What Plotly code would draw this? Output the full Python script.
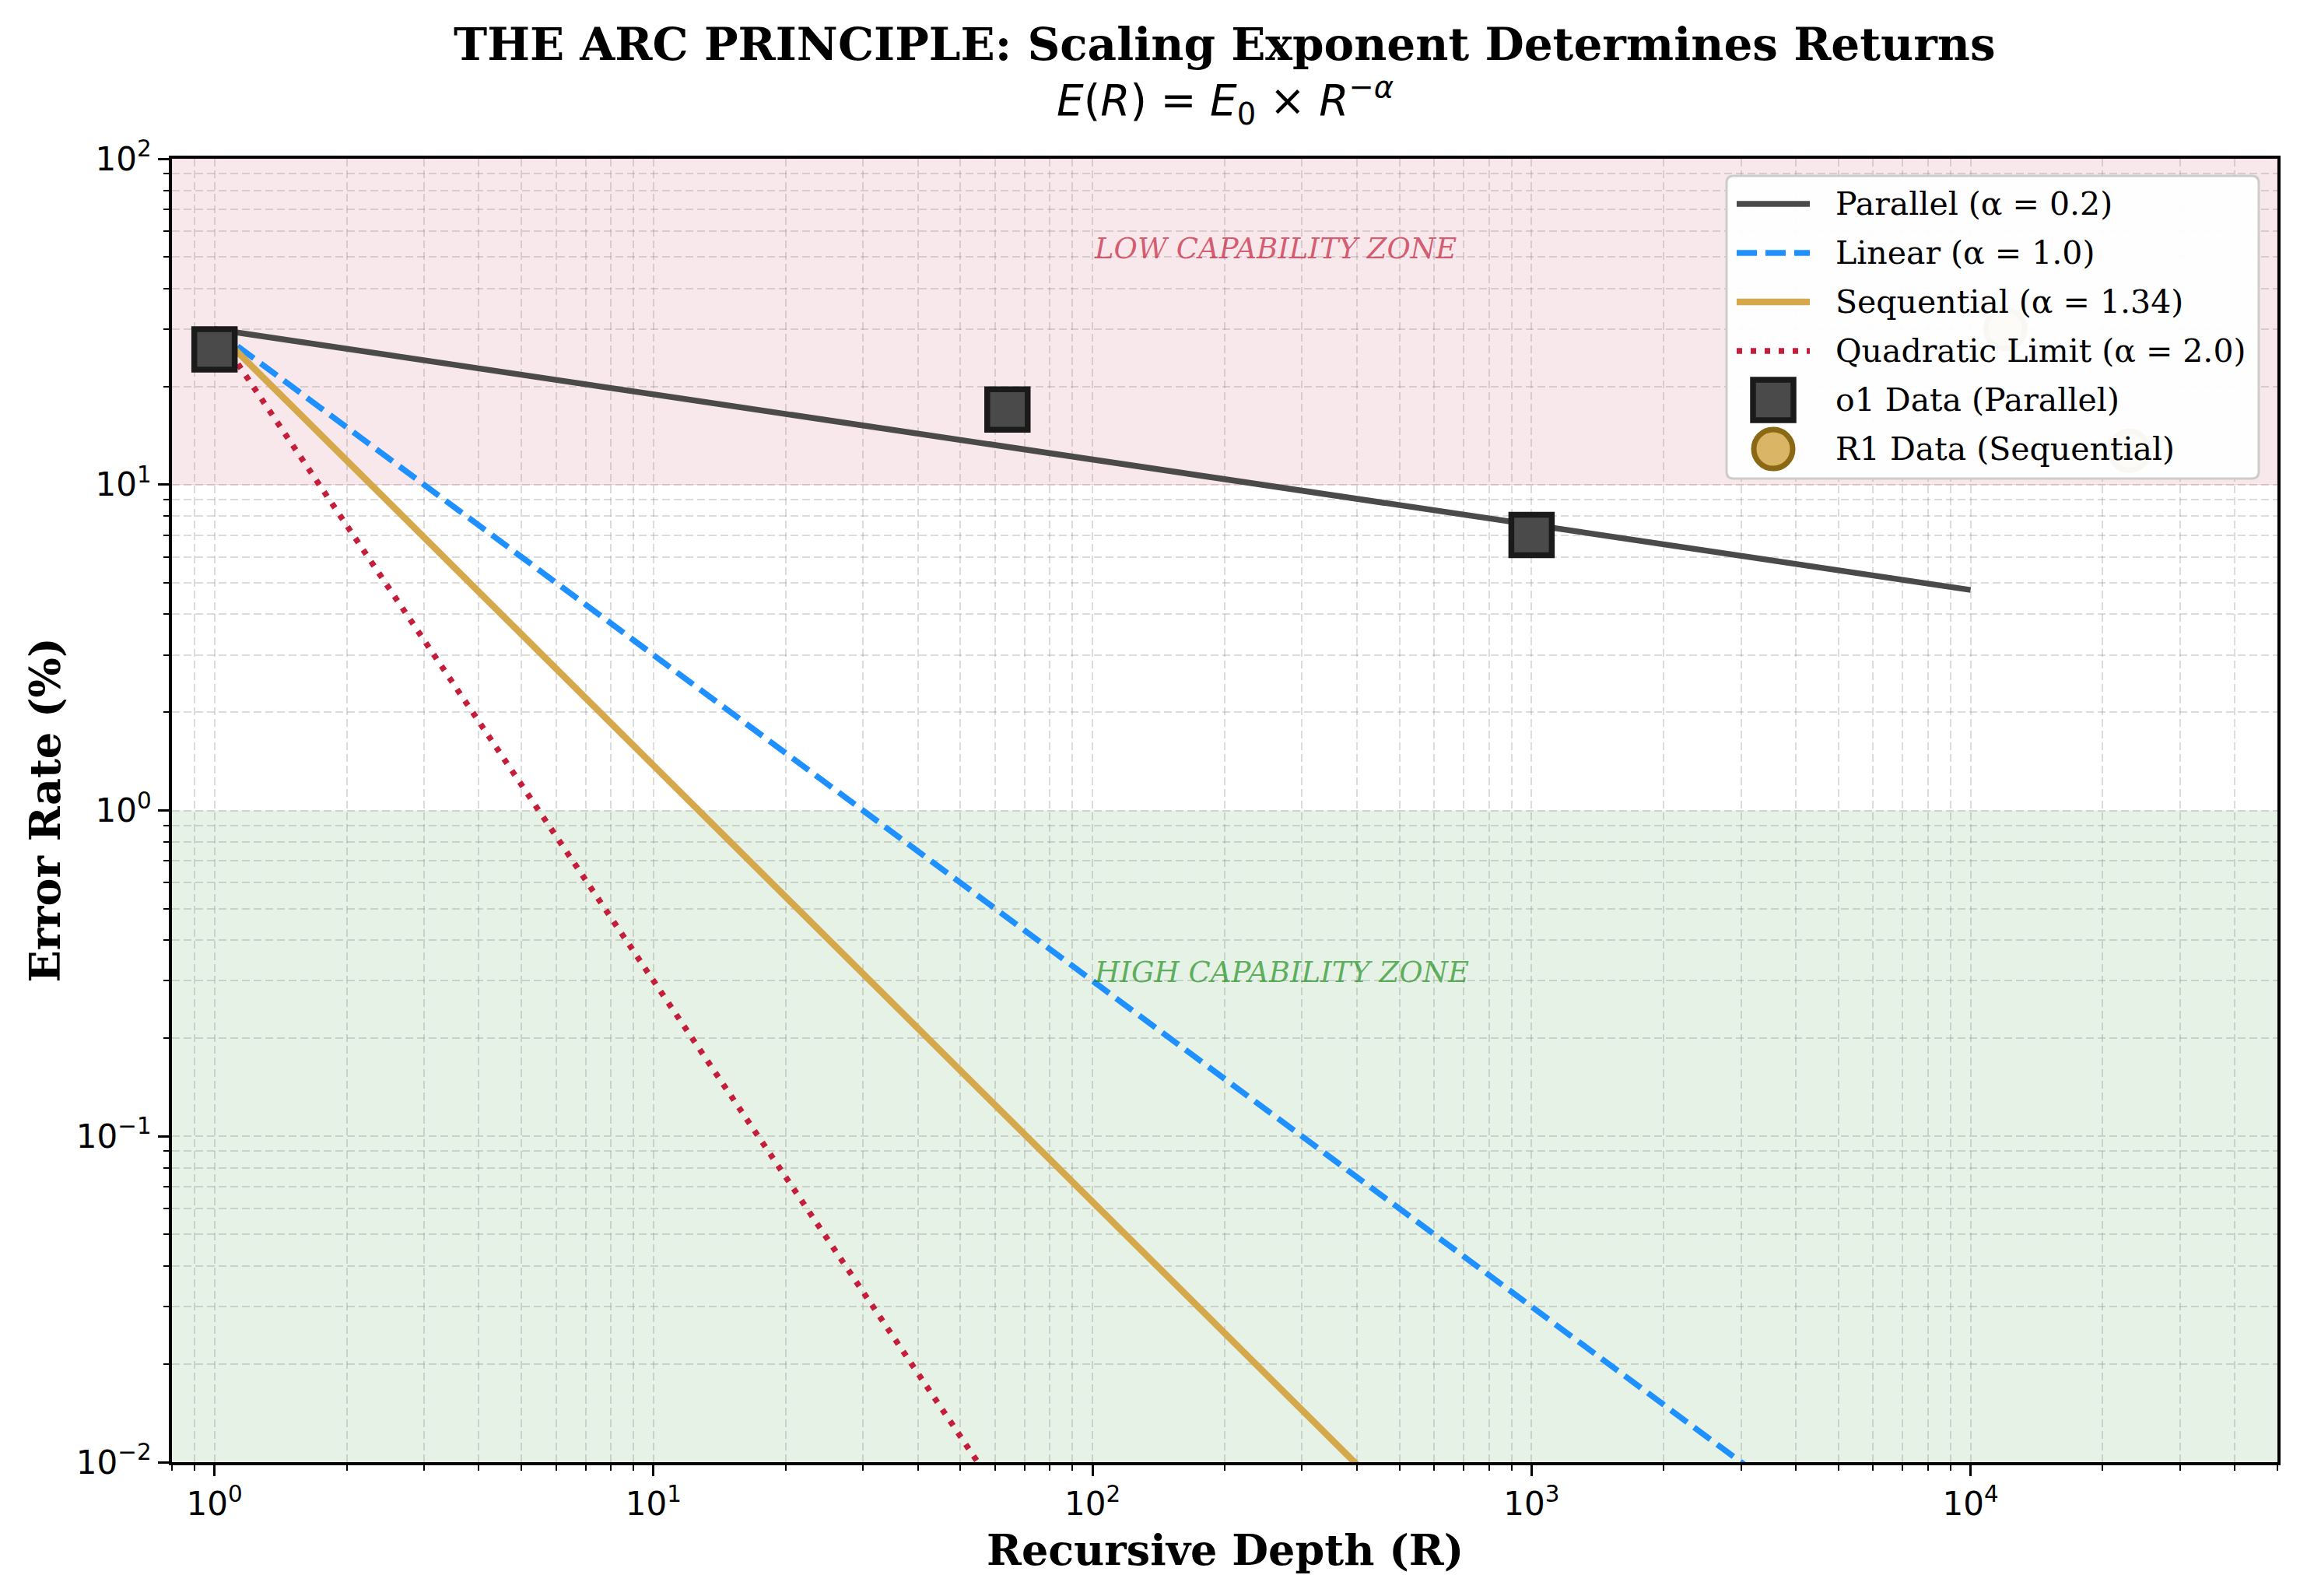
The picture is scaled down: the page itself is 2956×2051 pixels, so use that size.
import plotly.graph_objects as go
import math

# ---------------- data ----------------
R_curve = [1, 10000]
E_parallel = [30, 4.75]        # alpha = 0.2
E_linear = [30, 0.003]         # alpha = 1.0
E_sequential = [30, 0.000132]  # alpha = 1.34
E_quadratic = [30, 3e-7]       # alpha = 2.0

o1_R = [1, 64, 1000]
o1_E = [26, 17, 7]
r1_R = [12000, 23000]
r1_E = [30, 12.7]

series_names = ["Parallel (\u03b1 = 0.2)", "Linear (\u03b1 = 1.0)", "Sequential (\u03b1 = 1.34)",
                "Quadratic Limit (\u03b1 = 2.0)", "o1 Data (Parallel)", "R1 Data (Sequential)"]

x_major = [1, 10, 100, 1000, 10000]
x_major_text = ["10<sup>0</sup>", "10<sup>1</sup>", "10<sup>2</sup>", "10<sup>3</sup>", "10<sup>4</sup>"]
y_major = [0.01, 0.1, 1, 10, 100]
y_major_text = ["10<sup>\u22122</sup>", "10<sup>\u22121</sup>", "10<sup>0</sup>", "10<sup>1</sup>", "10<sup>2</sup>"]

x_minor = [0.8, 0.9] + [m * 10 ** d for d in range(0, 5) for m in range(2, 10) if m * 10 ** d <= 50000]
y_minor = [m * 10 ** d for d in range(-2, 2) for m in range(2, 10)]

# ---------------- styles ----------------
SERIF = "DejaVu Serif"
SANS = "DejaVu Sans"
GRID = "rgba(128,128,128,0.28)"
C_PAR, C_LIN, C_SEQ, C_QUA = "#4A4A4A", "#1E90FF", "#D4A84B", "#C41E3A"
LINE_STYLES = [
    dict(color=C_PAR, width=7.5),
    dict(color=C_LIN, width=7.5, dash="26px,11px"),
    dict(color=C_SEQ, width=8.5),
    dict(color=C_QUA, width=7.5, dash="7px,11px"),
]
SQ = dict(symbol="square", size=52, color="#4A4A4A", line=dict(color="#1A1A1A", width=7.5))
CI = dict(symbol="circle", size=50, color="rgba(212,168,75,0.85)", line=dict(color="#8B6914", width=7))

W, H = 2956, 2051
L, R, T, B = 221, 29, 204, 172
PW, PH = W - L - R, H - T - B


def px(x):
    return (x - L) / PW


def py(y):
    return (H - B - y) / PH


fig = go.Figure()

for ys, st, nm in zip([E_parallel, E_linear, E_sequential, E_quadratic], LINE_STYLES, series_names[:4]):
    fig.add_trace(go.Scatter(x=R_curve, y=ys, mode="lines", name=nm, line=st, showlegend=False))
fig.add_trace(go.Scatter(x=o1_R, y=o1_E, mode="markers", name=series_names[4], marker=SQ, showlegend=False))
fig.add_trace(go.Scatter(x=r1_R, y=r1_E, mode="markers", name=series_names[5], marker=CI, showlegend=False))

# zones
fig.add_shape(type="rect", xref="paper", yref="y", x0=0, x1=1, y0=10, y1=100,
              fillcolor="rgba(196,30,58,0.1)", line=dict(width=1.5, color="rgba(196,30,58,0.12)"), layer="below")
fig.add_shape(type="rect", xref="paper", yref="y", x0=0, x1=1, y0=0.01, y1=1,
              fillcolor="rgba(0,128,0,0.1)", line=dict(width=0), layer="below")

fig.add_annotation(x=math.log10(100), y=math.log10(50), xref="x", yref="y", text="LOW CAPABILITY ZONE",
                   showarrow=False, xanchor="left", yanchor="middle", yshift=11,
                   font=dict(family=SERIF, size=37, color="rgba(196,30,58,0.7)", style="italic"))
fig.add_annotation(x=math.log10(100), y=math.log10(0.3), xref="x", yref="y", text="HIGH CAPABILITY ZONE",
                   showarrow=False, xanchor="left", yanchor="middle", yshift=11,
                   font=dict(family=SERIF, size=37, color="rgba(0,128,0,0.6)", style="italic"))

# ---------------- legend (drawn manually to keep full-size symbols) ----------------
bx0, bx1, by0, by1, rad = 2219, 2903, 226, 615, 9
path = (f"M {px(bx0 + rad)},{py(by0)} L {px(bx1 - rad)},{py(by0)} Q {px(bx1)},{py(by0)} {px(bx1)},{py(by0 + rad)} "
        f"L {px(bx1)},{py(by1 - rad)} Q {px(bx1)},{py(by1)} {px(bx1 - rad)},{py(by1)} "
        f"L {px(bx0 + rad)},{py(by1)} Q {px(bx0)},{py(by1)} {px(bx0)},{py(by1 - rad)} "
        f"L {px(bx0)},{py(by0 + rad)} Q {px(bx0)},{py(by0)} {px(bx0 + rad)},{py(by0)} Z")
fig.add_shape(type="path", xref="paper", yref="paper", path=path,
              fillcolor="rgba(255,255,255,0.95)", line=dict(color="#CCCCCC", width=3), layer="above")

row_y = [262 + 63 * i for i in range(6)]
lx0, lx1, mx, tx = 2232, 2326, 2279, 2357
for i, st in enumerate(LINE_STYLES):
    fig.add_shape(type="line", xref="paper", yref="paper", x0=px(lx0), x1=px(lx1), y0=py(row_y[i]), y1=py(row_y[i]),
                  line=st, layer="above")
h = 26
fig.add_shape(type="rect", xref="paper", yref="paper", x0=px(mx - h), x1=px(mx + h),
              y0=py(row_y[4] - h), y1=py(row_y[4] + h),
              fillcolor="#4A4A4A", line=dict(color="#1A1A1A", width=7.5), layer="above")
h = 25
fig.add_shape(type="circle", xref="paper", yref="paper", x0=px(mx - h), x1=px(mx + h),
              y0=py(row_y[5] - h), y1=py(row_y[5] + h),
              fillcolor="rgba(212,168,75,0.85)", line=dict(color="#8B6914", width=7), layer="above")
for i, nm in enumerate(series_names):
    fig.add_annotation(x=px(tx), y=py(row_y[i]), xref="paper", yref="paper", text=nm, showarrow=False,
                       xanchor="left", yanchor="middle", font=dict(family=SERIF, size=41, color="black"))

# titles
fig.add_annotation(x=0.5, y=1.0878, xref="paper", yref="paper", showarrow=False,
                   text="<b>THE ARC PRINCIPLE: Scaling Exponent Determines Returns</b>",
                   font=dict(family=SERIF, size=58, color="black"), xanchor="center", yanchor="middle")
fig.add_annotation(x=0.5, y=1.045, xref="paper", yref="paper", showarrow=False,
                   text="<i>E</i>(<i>R</i>) = <i>E</i><sub>0</sub> \u00d7 <i>R</i><sup>\u2212<i>\u03b1</i></sup>",
                   font=dict(family=SANS, size=55, color="black"), xanchor="center", yanchor="middle")
fig.add_annotation(x=0.5, y=-0.0675, xref="paper", yref="paper", showarrow=False,
                   text="<b>Recursive Depth (R)</b>",
                   font=dict(family=SERIF, size=54, color="black"), xanchor="center", yanchor="middle")
fig.add_annotation(x=-0.0606, y=0.5, xref="paper", yref="paper", showarrow=False, textangle=-90,
                   text="<b>Error Rate (%)</b>",
                   font=dict(family=SERIF, size=54, color="black"), xanchor="center", yanchor="middle")

axis_common = dict(
    showline=True, linewidth=4, linecolor="black", mirror=True,
    ticks="outside", ticklen=14, tickwidth=3, tickcolor="black",
    showgrid=True, gridcolor=GRID, gridwidth=2, griddash="10px,5px",
    zeroline=False,
    tickfont=dict(family=SANS, size=42, color="black"),
)

fig.update_xaxes(type="log", range=[math.log10(0.8), math.log10(50000)],
                 tickmode="array", tickvals=x_major, ticktext=x_major_text,
                 minor=dict(tickmode="array", tickvals=x_minor, ticks="outside", ticklen=7, tickwidth=2,
                            tickcolor="black", showgrid=True, gridcolor=GRID, gridwidth=2, griddash="10px,5px"),
                 **axis_common)
fig.update_yaxes(type="log", range=[-2, 2],
                 tickmode="array", tickvals=y_major, ticktext=y_major_text,
                 minor=dict(tickmode="array", tickvals=y_minor, ticks="outside", ticklen=7, tickwidth=2,
                            tickcolor="black", showgrid=True, gridcolor=GRID, gridwidth=2, griddash="10px,5px"),
                 **axis_common)

fig.update_layout(
    width=W, height=H,
    margin=dict(l=L, r=R, t=T, b=B),
    paper_bgcolor="white", plot_bgcolor="white",
    showlegend=False,
)

fig.write_html("out.html")
